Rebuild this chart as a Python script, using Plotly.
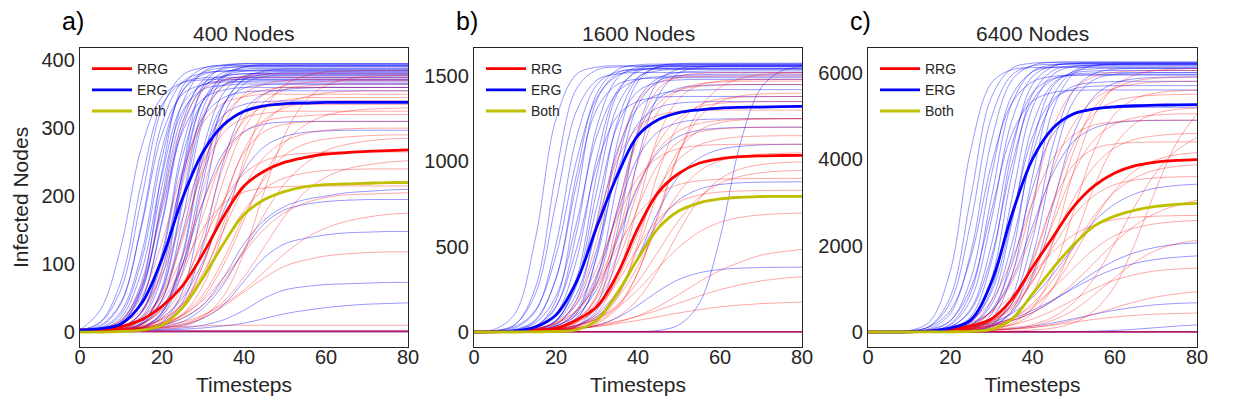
import plotly.graph_objects as go

# timesteps at which every run was sampled
timesteps = [0, 5, 10, 15, 20, 25, 30, 35, 40, 45, 50, 55, 60, 65, 70, 75, 80]

# ---------- a) 400 nodes ----------
a_erg_runs = [
    [3, 14, 63, 196, 329, 378, 389, 392, 392, 392, 392, 392, 392, 392, 392, 392, 392],
    [3, 6, 30, 115, 270, 354, 379, 384, 385, 385, 385, 385, 385, 385, 385, 385, 385],
    [3, 3, 14, 61, 190, 319, 366, 377, 380, 380, 380, 380, 380, 380, 380, 380, 380],
    [3, 3, 12, 58, 198, 337, 383, 393, 395, 395, 395, 395, 395, 395, 395, 395, 395],
    [3, 3, 6, 29, 111, 259, 340, 364, 369, 370, 370, 370, 370, 370, 370, 370, 370],
    [3, 3, 6, 30, 116, 272, 357, 382, 387, 388, 388, 388, 388, 388, 388, 388, 388],
    [3, 3, 3, 14, 60, 188, 315, 362, 373, 375, 375, 375, 375, 375, 375, 375, 375],
    [3, 3, 3, 14, 63, 196, 329, 378, 390, 392, 392, 392, 392, 392, 392, 392, 392],
    [3, 3, 3, 6, 28, 110, 256, 336, 359, 364, 365, 365, 365, 365, 365, 365, 365],
    [3, 3, 3, 6, 30, 115, 268, 352, 377, 382, 383, 383, 383, 383, 383, 383, 383],
    [3, 3, 3, 3, 14, 60, 189, 318, 365, 376, 378, 378, 378, 378, 378, 378, 378],
    [3, 3, 3, 3, 12, 44, 130, 252, 325, 351, 357, 359, 360, 360, 360, 360, 360],
    [3, 5, 26, 105, 257, 355, 382, 389, 390, 390, 390, 390, 390, 390, 390, 390, 390],
    [3, 33, 126, 272, 346, 367, 371, 372, 372, 372, 372, 372, 372, 372, 372, 372, 372],
    [3, 3, 10, 46, 160, 300, 361, 376, 380, 380, 380, 380, 380, 380, 380, 380, 380],
    [3, 3, 4, 19, 81, 224, 340, 376, 384, 386, 386, 386, 386, 386, 386, 386, 386],
    [3, 10, 44, 155, 291, 350, 364, 368, 368, 368, 368, 368, 368, 368, 368, 368, 368],
    [3, 3, 3, 12, 48, 146, 262, 319, 335, 339, 340, 340, 340, 340, 340, 340, 340],
    [3, 3, 3, 12, 37, 99, 192, 264, 295, 306, 309, 310, 310, 310, 310, 310, 310],
    [3, 3, 3, 5, 21, 50, 104, 178, 238, 273, 288, 294, 296, 297, 297, 297, 297],
    [3, 3, 3, 5, 10, 20, 40, 80, 130, 165, 185, 195, 200, 205, 207, 209, 210],
    [3, 3, 3, 4, 8, 15, 35, 70, 120, 160, 180, 188, 192, 194, 195, 195, 195],
    [3, 3, 3, 4, 6, 10, 20, 40, 75, 110, 130, 138, 143, 146, 147, 148, 148],
    [3, 3, 3, 3, 4, 6, 10, 18, 32, 50, 62, 67, 70, 71, 72, 73, 73],
    [3, 3, 3, 3, 3, 4, 6, 9, 13, 20, 27, 32, 36, 39, 41, 42, 43],
    [3, 3, 11, 66, 236, 361, 388, 393, 393, 393, 393, 393, 393, 393, 393, 393, 393],
    [3, 15, 75, 221, 334, 367, 374, 375, 375, 375, 375, 375, 375, 375, 375, 375, 375],
    [3, 3, 7, 29, 103, 230, 316, 345, 353, 355, 355, 355, 355, 355, 355, 355, 355],
    [3, 3, 3, 6, 24, 89, 221, 333, 373, 384, 387, 387, 387, 387, 387, 387, 387],
    [3, 3, 15, 73, 215, 325, 357, 363, 365, 365, 365, 365, 365, 365, 365, 365, 365],
    [3, 8, 42, 159, 307, 368, 381, 384, 384, 384, 384, 384, 384, 384, 384, 384, 384],
    [3, 3, 10, 47, 164, 309, 371, 387, 391, 391, 391, 391, 391, 391, 391, 391, 391],
    [3, 3, 4, 22, 91, 234, 340, 370, 376, 378, 378, 378, 378, 378, 378, 378, 378],
    [3, 3, 3, 10, 47, 165, 311, 374, 390, 394, 394, 394, 394, 394, 394, 394, 394],
    [3, 4, 21, 89, 231, 335, 364, 370, 372, 372, 372, 372, 372, 372, 372, 372, 372],
    [3, 3, 3, 7, 28, 99, 233, 334, 371, 379, 382, 382, 382, 382, 382, 382, 382],
    [3, 3, 3, 11, 66, 237, 362, 390, 395, 395, 395, 395, 395, 395, 395, 395, 395],
    [3, 4, 17, 65, 180, 295, 343, 356, 360, 360, 360, 360, 360, 360, 360, 360, 360],
    [1, 1, 1, 1, 1, 1, 1, 1, 1, 1, 1, 1, 1, 1, 1, 1, 1],
    [1, 1, 1, 1, 1, 1, 1, 1, 1, 1, 1, 1, 1, 1, 1, 1, 1],
    [2, 2, 2, 2, 2, 2, 2, 2, 2, 2, 2, 2, 2, 2, 2, 2, 2],
    [0, 0, 0, 0, 0, 0, 0, 0, 0, 0, 0, 0, 0, 0, 0, 0, 0],
]
a_rrg_runs = [
    [3, 3, 8, 28, 93, 217, 320, 363, 376, 380, 380, 380, 380, 380, 380, 380, 380],
    [3, 3, 5, 17, 54, 136, 244, 317, 347, 356, 360, 360, 360, 360, 360, 360, 360],
    [3, 3, 4, 12, 35, 86, 172, 259, 311, 333, 341, 345, 345, 345, 345, 345, 345],
    [3, 3, 3, 9, 25, 66, 144, 244, 315, 350, 363, 367, 369, 370, 370, 370, 370],
    [3, 3, 9, 22, 53, 112, 192, 256, 294, 310, 316, 318, 320, 320, 320, 320, 320],
    [3, 3, 3, 8, 19, 42, 87, 150, 213, 258, 281, 292, 297, 299, 300, 300, 300],
    [3, 3, 3, 6, 14, 35, 82, 160, 245, 305, 334, 346, 352, 354, 355, 355, 355],
    [3, 3, 3, 5, 11, 24, 50, 99, 165, 231, 279, 305, 319, 325, 328, 329, 330],
    [3, 3, 3, 5, 10, 21, 40, 74, 122, 174, 219, 248, 267, 276, 281, 284, 285],
    [3, 3, 5, 12, 32, 71, 132, 193, 233, 252, 260, 263, 265, 265, 265, 265, 265],
    [3, 3, 4, 7, 13, 25, 47, 80, 117, 152, 176, 190, 198, 202, 203, 204, 205],
    [3, 3, 4, 6, 10, 15, 25, 41, 62, 89, 116, 138, 153, 163, 169, 173, 175],
    [3, 3, 3, 4, 7, 11, 21, 38, 59, 80, 97, 106, 112, 115, 117, 118, 118],
    [3, 4, 5, 6, 7, 8, 9, 10, 10, 10, 10, 10, 10, 10, 10, 10, 10],
    [3, 4, 18, 68, 188, 307, 357, 371, 375, 375, 375, 375, 375, 375, 375, 375, 375],
    [3, 5, 16, 52, 132, 238, 308, 337, 346, 350, 350, 350, 350, 350, 350, 350, 350],
    [3, 3, 3, 4, 11, 37, 99, 192, 264, 295, 306, 309, 310, 310, 310, 310, 310],
    [3, 3, 3, 7, 18, 40, 79, 130, 179, 211, 227, 234, 238, 239, 240, 240, 240],
    [3, 3, 3, 4, 9, 26, 68, 150, 254, 328, 364, 377, 383, 384, 385, 385, 385],
    [3, 3, 6, 18, 45, 97, 152, 189, 206, 212, 214, 215, 215, 215, 215, 215, 215],
    [3, 3, 3, 7, 20, 54, 124, 223, 299, 339, 357, 362, 364, 365, 365, 365, 365],
    [3, 5, 12, 33, 84, 168, 251, 302, 323, 331, 334, 335, 335, 335, 335, 335, 335],
    [3, 3, 3, 5, 11, 26, 55, 107, 171, 226, 261, 277, 284, 287, 289, 290, 290],
    [3, 3, 3, 4, 7, 12, 24, 45, 81, 126, 171, 207, 228, 240, 246, 250, 252],
    [3, 3, 5, 11, 35, 100, 209, 304, 350, 365, 370, 372, 372, 372, 372, 372, 372],
    [3, 3, 3, 5, 15, 41, 99, 188, 268, 312, 330, 337, 339, 340, 340, 340, 340],
    [3, 3, 6, 19, 59, 142, 237, 293, 315, 322, 325, 325, 325, 325, 325, 325, 325],
    [3, 3, 3, 3, 5, 8, 22, 53, 117, 208, 291, 340, 363, 372, 376, 377, 378],
    [1, 1, 1, 1, 1, 1, 1, 1, 1, 1, 1, 1, 1, 1, 1, 1, 1],
    [1, 1, 1, 1, 1, 1, 1, 1, 1, 1, 1, 1, 1, 1, 1, 1, 1],
    [2, 2, 2, 2, 2, 2, 2, 2, 2, 2, 2, 2, 2, 2, 2, 2, 2],
    [0, 0, 0, 0, 0, 0, 0, 0, 0, 0, 0, 0, 0, 0, 0, 0, 0],
]
a_rrg_mean = [3, 4, 8, 18, 38, 68, 115, 170, 215, 237, 250, 257, 262, 264, 266, 267, 268]
a_erg_mean = [3, 5, 12, 42, 108, 197, 265, 305, 325, 333, 336, 337, 338, 338, 338, 338, 338]
a_both_mean = [0, 0, 1, 3, 10, 36, 80, 130, 173, 195, 207, 214, 217, 218, 219, 220, 220]

# ---------- b) 1600 nodes ----------
b_erg_runs = [
    [3, 16, 108, 551, 1248, 1510, 1552, 1560, 1560, 1560, 1560, 1560, 1560, 1560, 1560, 1560, 1560],
    [3, 5, 23, 123, 513, 1140, 1450, 1525, 1537, 1540, 1540, 1540, 1540, 1540, 1540, 1540, 1540],
    [3, 3, 11, 65, 314, 922, 1399, 1537, 1565, 1570, 1570, 1570, 1570, 1570, 1570, 1570, 1570],
    [3, 3, 12, 54, 211, 638, 1152, 1406, 1478, 1496, 1500, 1500, 1500, 1500, 1500, 1500, 1500],
    [3, 3, 5, 21, 104, 421, 1026, 1415, 1526, 1550, 1555, 1555, 1555, 1555, 1555, 1555, 1555],
    [3, 3, 4, 16, 70, 270, 740, 1210, 1410, 1464, 1477, 1480, 1480, 1480, 1480, 1480, 1480],
    [3, 3, 3, 8, 41, 190, 655, 1234, 1489, 1551, 1562, 1565, 1565, 1565, 1565, 1565, 1565],
    [3, 3, 3, 6, 30, 127, 443, 994, 1362, 1489, 1521, 1528, 1530, 1530, 1530, 1530, 1530],
    [3, 3, 3, 5, 22, 83, 287, 725, 1163, 1367, 1428, 1444, 1448, 1450, 1450, 1450, 1450],
    [3, 3, 3, 3, 8, 31, 130, 452, 1014, 1388, 1518, 1550, 1558, 1560, 1560, 1560, 1560],
    [3, 3, 8, 37, 151, 487, 979, 1266, 1352, 1375, 1380, 1380, 1380, 1380, 1380, 1380, 1380],
    [3, 3, 3, 8, 35, 98, 253, 539, 852, 1056, 1147, 1182, 1194, 1198, 1200, 1200, 1200],
    [3, 3, 3, 5, 12, 35, 91, 218, 440, 711, 916, 1020, 1070, 1088, 1096, 1099, 1100],
    [3, 3, 3, 6, 16, 41, 105, 237, 440, 643, 775, 837, 864, 874, 878, 879, 880],
    [3, 3, 3, 4, 8, 17, 39, 84, 156, 240, 308, 347, 366, 374, 378, 379, 380],
    [3, 3, 3, 3, 3, 3, 3, 3, 3, 9, 42, 170, 550, 1110, 1430, 1530, 1554],
    [3, 8, 44, 225, 760, 1295, 1476, 1512, 1520, 1520, 1520, 1520, 1520, 1520, 1520, 1520, 1520],
    [3, 3, 4, 28, 185, 772, 1360, 1517, 1542, 1545, 1545, 1545, 1545, 1545, 1545, 1545, 1545],
    [3, 3, 3, 12, 64, 314, 926, 1397, 1537, 1564, 1570, 1570, 1570, 1570, 1570, 1570, 1570],
    [3, 3, 3, 3, 15, 74, 317, 876, 1329, 1471, 1502, 1508, 1510, 1510, 1510, 1510, 1510],
    [3, 7, 31, 128, 448, 1004, 1375, 1503, 1536, 1543, 1545, 1545, 1545, 1545, 1545, 1545, 1545],
    [3, 3, 5, 16, 62, 223, 611, 1065, 1315, 1392, 1413, 1418, 1420, 1420, 1420, 1420, 1420],
    [3, 3, 4, 11, 36, 119, 338, 700, 1025, 1175, 1227, 1244, 1248, 1250, 1250, 1250, 1250],
    [3, 6, 42, 262, 928, 1425, 1536, 1553, 1555, 1555, 1555, 1555, 1555, 1555, 1555, 1555, 1555],
    [3, 3, 5, 28, 146, 582, 1206, 1488, 1551, 1563, 1565, 1565, 1565, 1565, 1565, 1565, 1565],
    [3, 3, 4, 13, 65, 285, 835, 1325, 1494, 1531, 1538, 1540, 1540, 1540, 1540, 1540, 1540],
    [3, 3, 3, 4, 20, 106, 461, 1114, 1469, 1556, 1572, 1575, 1575, 1575, 1575, 1575, 1575],
    [3, 4, 15, 73, 314, 866, 1309, 1451, 1482, 1488, 1490, 1490, 1490, 1490, 1490, 1490, 1490],
    [3, 3, 3, 3, 7, 34, 164, 593, 1187, 1468, 1542, 1556, 1560, 1560, 1560, 1560, 1560],
    [3, 3, 4, 12, 46, 165, 489, 943, 1220, 1315, 1341, 1348, 1350, 1350, 1350, 1350, 1350],
    [0, 0, 0, 0, 0, 0, 0, 0, 0, 0, 0, 0, 0, 0, 0, 0, 0],
    [0, 0, 0, 0, 0, 0, 0, 0, 0, 0, 0, 0, 0, 0, 0, 0, 0],
    [1, 1, 1, 1, 1, 1, 1, 1, 1, 1, 1, 1, 1, 1, 1, 1, 1],
    [3, 3, 3, 3, 3, 3, 3, 3, 3, 3, 3, 3, 3, 3, 3, 3, 3],
]
b_rrg_runs = [
    [3, 3, 5, 13, 51, 184, 543, 1047, 1356, 1461, 1490, 1497, 1500, 1500, 1500, 1500, 1500],
    [3, 3, 4, 10, 34, 110, 322, 725, 1128, 1340, 1417, 1440, 1447, 1450, 1450, 1450, 1450],
    [3, 3, 4, 8, 26, 73, 199, 459, 829, 1110, 1256, 1319, 1340, 1347, 1350, 1350, 1350],
    [3, 3, 7, 19, 49, 125, 290, 562, 863, 1070, 1179, 1222, 1240, 1247, 1250, 1250, 1250],
    [3, 3, 4, 9, 21, 54, 137, 310, 575, 840, 1013, 1096, 1129, 1143, 1148, 1150, 1150],
    [3, 3, 4, 8, 18, 40, 93, 202, 386, 618, 818, 944, 1003, 1030, 1042, 1047, 1050],
    [3, 3, 3, 4, 10, 34, 112, 329, 740, 1151, 1368, 1446, 1470, 1477, 1480, 1480, 1480],
    [3, 3, 5, 9, 18, 37, 79, 159, 295, 475, 655, 791, 871, 912, 933, 943, 946],
    [3, 3, 3, 4, 7, 17, 50, 139, 350, 700, 1050, 1260, 1350, 1383, 1394, 1398, 1400],
    [3, 4, 7, 12, 22, 38, 76, 145, 248, 377, 497, 587, 642, 672, 686, 693, 697],
    [3, 4, 6, 9, 14, 22, 33, 57, 95, 150, 220, 295, 360, 410, 450, 470, 483],
    [3, 4, 6, 9, 14, 26, 40, 62, 92, 128, 170, 211, 248, 277, 299, 314, 324],
    [3, 4, 6, 8, 14, 21, 32, 49, 68, 90, 112, 131, 147, 158, 166, 171, 175],
    [3, 3, 3, 5, 12, 55, 216, 651, 1170, 1425, 1497, 1515, 1520, 1520, 1520, 1520, 1520],
    [3, 3, 4, 7, 10, 16, 38, 88, 192, 368, 589, 779, 897, 955, 981, 992, 997],
    [3, 3, 9, 30, 99, 290, 650, 1010, 1201, 1270, 1292, 1298, 1300, 1300, 1300, 1300, 1300],
    [3, 3, 5, 10, 22, 57, 140, 292, 496, 664, 762, 803, 820, 826, 829, 830, 830],
    [3, 3, 3, 4, 6, 19, 65, 204, 522, 940, 1216, 1329, 1365, 1375, 1378, 1380, 1380],
    [3, 3, 4, 9, 23, 65, 176, 410, 733, 985, 1115, 1172, 1190, 1197, 1199, 1200, 1200],
    [3, 3, 4, 7, 12, 23, 59, 152, 350, 684, 1049, 1307, 1433, 1485, 1508, 1516, 1520],
    [3, 4, 9, 20, 51, 126, 279, 495, 693, 810, 864, 886, 895, 898, 900, 900, 900],
    [3, 3, 4, 9, 21, 69, 218, 556, 998, 1295, 1416, 1454, 1465, 1469, 1470, 1470, 1470],
    [3, 3, 4, 8, 15, 29, 83, 221, 491, 822, 1066, 1183, 1226, 1242, 1247, 1249, 1250],
    [3, 4, 9, 21, 59, 162, 376, 673, 903, 1023, 1075, 1092, 1098, 1100, 1100, 1100, 1100],
    [0, 0, 0, 0, 0, 0, 0, 0, 0, 0, 0, 0, 0, 0, 0, 0, 0],
    [0, 0, 0, 0, 0, 0, 0, 0, 0, 0, 0, 0, 0, 0, 0, 0, 0],
    [1, 1, 1, 1, 1, 1, 1, 1, 1, 1, 1, 1, 1, 1, 1, 1, 1],
    [3, 3, 3, 3, 3, 3, 3, 3, 3, 3, 3, 3, 3, 3, 3, 3, 3],
]
b_rrg_mean = [0, 1, 4, 10, 22, 70, 150, 340, 610, 820, 930, 990, 1015, 1027, 1032, 1034, 1035]
b_erg_mean = [0, 2, 6, 30, 100, 295, 620, 920, 1152, 1245, 1285, 1302, 1312, 1316, 1318, 1320, 1322]
b_both_mean = [0, 0, 0, 1, 3, 12, 70, 230, 430, 610, 710, 757, 780, 789, 793, 795, 795]

# ---------- c) 6400 nodes ----------
c_erg_runs = [
    [3, 3, 23, 130, 680, 2540, 4960, 5950, 6155, 6195, 6200, 6200, 6200, 6200, 6200, 6200, 6200],
    [3, 3, 8, 46, 252, 1230, 3630, 5470, 6020, 6125, 6150, 6150, 6150, 6150, 6150, 6150, 6150],
    [3, 3, 3, 31, 160, 750, 2600, 4900, 5910, 6160, 6210, 6220, 6220, 6220, 6220, 6220, 6220],
    [3, 3, 3, 27, 120, 500, 1740, 3890, 5350, 5840, 5965, 5993, 6000, 6000, 6000, 6000, 6000],
    [3, 3, 3, 8, 43, 220, 990, 3090, 5190, 5960, 6140, 6175, 6180, 6180, 6180, 6180, 6180],
    [3, 3, 3, 5, 35, 157, 635, 2040, 4120, 5320, 5690, 5770, 5795, 5800, 5800, 5800, 5800],
    [3, 3, 3, 3, 14, 61, 303, 1310, 3610, 5450, 6040, 6170, 6195, 6200, 6200, 6200, 6200],
    [3, 3, 3, 3, 8, 37, 165, 668, 2140, 4330, 5590, 5980, 6080, 6097, 6100, 6100, 6100],
    [3, 3, 10, 62, 265, 1020, 2800, 4580, 5340, 5540, 5590, 5598, 5600, 5600, 5600, 5600, 5600],
    [3, 3, 14, 78, 422, 1840, 4410, 5830, 6170, 6240, 6250, 6250, 6250, 6250, 6250, 6250, 6250],
    [3, 3, 3, 3, 8, 40, 138, 448, 1310, 2950, 4590, 5450, 5760, 5860, 5890, 5898, 5900],
    [3, 3, 5, 20, 60, 175, 490, 1230, 2450, 3680, 4410, 4720, 4840, 4880, 4895, 4899, 4900],
    [3, 3, 10, 25, 55, 107, 217, 430, 800, 1340, 1970, 2560, 2960, 3200, 3330, 3390, 3420],
    [3, 3, 8, 20, 45, 85, 145, 262, 450, 720, 1050, 1380, 1650, 1840, 1960, 2030, 2060],
    [3, 5, 15, 35, 70, 120, 187, 313, 500, 740, 1010, 1260, 1460, 1590, 1680, 1730, 1760],
    [3, 3, 5, 10, 18, 30, 50, 80, 133, 210, 308, 412, 504, 575, 630, 660, 676],
    [3, 3, 3, 3, 3, 3, 3, 3, 3, 5, 10, 19, 36, 64, 100, 136, 164],
    [3, 4, 34, 240, 1410, 4220, 5760, 6070, 6115, 6120, 6120, 6120, 6120, 6120, 6120, 6120, 6120],
    [3, 3, 3, 11, 65, 355, 1620, 4170, 5730, 6140, 6215, 6228, 6230, 6230, 6230, 6230, 6230],
    [3, 3, 3, 6, 30, 157, 726, 2540, 4780, 5750, 5990, 6040, 6050, 6050, 6050, 6050, 6050],
    [3, 3, 27, 119, 494, 1725, 3870, 5300, 5790, 5915, 5945, 5950, 5950, 5950, 5950, 5950, 5950],
    [3, 3, 3, 3, 8, 27, 155, 806, 2850, 5150, 5980, 6160, 6195, 6200, 6200, 6200, 6200],
    [3, 3, 3, 8, 33, 135, 500, 1560, 3330, 4580, 5020, 5150, 5185, 5195, 5200, 5200, 5200],
    [3, 3, 6, 32, 183, 917, 3105, 5290, 6030, 6180, 6205, 6210, 6210, 6210, 6210, 6210, 6210],
    [3, 3, 3, 10, 46, 253, 1236, 3650, 5500, 6050, 6155, 6175, 6180, 6180, 6180, 6180, 6180],
    [3, 3, 3, 4, 13, 76, 409, 1770, 4330, 5690, 6025, 6090, 6100, 6100, 6100, 6100, 6100],
    [3, 3, 5, 22, 113, 535, 2020, 4340, 5530, 5865, 5935, 5948, 5950, 5950, 5950, 5950, 5950],
    [3, 4, 21, 137, 811, 3120, 5430, 6100, 6220, 6240, 6240, 6240, 6240, 6240, 6240, 6240, 6240],
    [3, 3, 3, 3, 8, 27, 120, 500, 1740, 3890, 5350, 5840, 5965, 5993, 6000, 6000, 6000],
    [3, 3, 3, 12, 54, 234, 912, 2630, 4510, 5385, 5625, 5685, 5698, 5700, 5700, 5700, 5700],
    [0, 0, 0, 0, 0, 0, 0, 0, 0, 0, 0, 0, 0, 0, 0, 0, 0],
    [0, 0, 0, 0, 0, 0, 0, 0, 0, 0, 0, 0, 0, 0, 0, 0, 0],
    [3, 3, 3, 3, 3, 3, 3, 3, 3, 3, 3, 3, 3, 3, 3, 3, 3],
    [10, 10, 10, 10, 10, 10, 10, 10, 10, 10, 10, 10, 10, 10, 10, 10, 10],
]
c_rrg_runs = [
    [3, 3, 5, 15, 41, 139, 460, 1330, 3025, 4720, 5590, 5910, 6010, 6040, 6050, 6050, 6050],
    [3, 3, 4, 12, 30, 83, 242, 660, 1600, 3030, 4350, 5060, 5340, 5440, 5480, 5495, 5500],
    [3, 3, 8, 20, 45, 101, 244, 550, 1160, 2090, 3090, 3840, 4260, 4460, 4540, 4580, 4595],
    [3, 3, 5, 15, 40, 80, 152, 323, 660, 1210, 1950, 2690, 3240, 3570, 3750, 3830, 3870],
    [3, 3, 3, 5, 12, 30, 63, 168, 430, 1030, 2090, 3370, 4320, 4830, 5060, 5150, 5180],
    [3, 3, 8, 18, 40, 80, 164, 325, 600, 1010, 1480, 1920, 2230, 2410, 2505, 2555, 2580],
    [3, 3, 8, 18, 35, 55, 86, 164, 296, 498, 750, 1000, 1200, 1330, 1415, 1455, 1478],
    [3, 3, 8, 25, 70, 186, 480, 1160, 2320, 3770, 4810, 5390, 5640, 5740, 5780, 5795, 5800],
    [3, 3, 4, 8, 20, 62, 207, 660, 1670, 2990, 3870, 4240, 4350, 4385, 4395, 4399, 4400],
    [3, 3, 3, 3, 3, 5, 10, 20, 45, 90, 213, 493, 1060, 2070, 3300, 4370, 5040],
    [3, 8, 14, 25, 48, 85, 150, 265, 450, 740, 1130, 1600, 2070, 2470, 2750, 2930, 3050],
    [3, 3, 5, 8, 14, 25, 40, 63, 104, 158, 225, 292, 346, 388, 414, 428, 438],
    [3, 3, 5, 12, 30, 60, 116, 330, 900, 2080, 3720, 5000, 5680, 5950, 6050, 6085, 6095],
    [3, 3, 4, 6, 10, 20, 35, 70, 139, 275, 506, 860, 1255, 1620, 1890, 2040, 2120],
    [3, 3, 10, 30, 93, 265, 720, 1670, 2990, 4020, 4560, 4790, 4860, 4890, 4900, 4900, 4900],
    [3, 3, 5, 10, 20, 35, 60, 100, 173, 345, 680, 1250, 2060, 2930, 3690, 4200, 4500],
    [3, 3, 5, 10, 18, 30, 45, 70, 103, 174, 277, 410, 560, 700, 810, 880, 933],
    [3, 3, 5, 12, 34, 91, 237, 606, 1360, 2525, 3690, 4450, 4810, 4960, 5020, 5045, 5050],
    [3, 3, 3, 6, 12, 30, 67, 200, 560, 1400, 2800, 4200, 5040, 5400, 5530, 5580, 5595],
    [3, 5, 10, 22, 47, 113, 266, 595, 1180, 1960, 2690, 3160, 3410, 3520, 3565, 3588, 3595],
    [3, 8, 22, 49, 106, 225, 455, 840, 1350, 1860, 2245, 2475, 2600, 2655, 2680, 2692, 2697],
    [3, 3, 5, 12, 28, 58, 170, 484, 1240, 2630, 4180, 5190, 5640, 5810, 5870, 5892, 5900],
    [3, 3, 8, 20, 40, 70, 121, 260, 540, 1030, 1770, 2600, 3280, 3740, 3980, 4100, 4150],
    [0, 0, 0, 0, 0, 0, 0, 0, 0, 0, 0, 0, 0, 0, 0, 0, 0],
    [0, 0, 0, 0, 0, 0, 0, 0, 0, 0, 0, 0, 0, 0, 0, 0, 0],
    [3, 3, 3, 3, 3, 3, 3, 3, 3, 3, 3, 3, 3, 3, 3, 3, 3],
    [10, 10, 10, 10, 10, 10, 10, 10, 10, 10, 10, 10, 10, 10, 10, 10, 10],
]
c_rrg_mean = [0, 1, 5, 18, 55, 140, 300, 760, 1500, 2200, 2900, 3380, 3680, 3850, 3930, 3970, 3990]
c_erg_mean = [0, 0, 5, 20, 90, 280, 1150, 2720, 4000, 4720, 5050, 5160, 5210, 5235, 5248, 5255, 5260]
c_both_mean = [0, 0, 0, 2, 5, 15, 60, 300, 880, 1480, 2020, 2450, 2680, 2820, 2905, 2950, 2975]

panel_labels = ["a)", "b)", "c)"]
panel_titles = ["400 Nodes", "1600 Nodes", "6400 Nodes"]
y_ranges = [[-22, 418], [-88, 1664], [-347, 6571]]
y_ticks = [[0, 100, 200, 300, 400], [0, 500, 1000, 1500], [0, 2000, 4000, 6000]]

# the page body keeps an 8px margin on the left and top, so lay out 8px smaller
OFF = 8
W, H = 1240 - OFF, 396 - OFF
plot_left = [80, 474, 868]
plot_right = [408, 802, 1197]
plot_top, plot_bottom = 48, 347


def px(x):
    return (x - OFF) / W


def py(y):
    return 1 - (y - OFF) / H


panels = [
    (a_erg_runs, a_rrg_runs, a_rrg_mean, a_erg_mean, a_both_mean),
    (b_erg_runs, b_rrg_runs, b_rrg_mean, b_erg_mean, b_both_mean),
    (c_erg_runs, c_rrg_runs, c_rrg_mean, c_erg_mean, c_both_mean),
]

TXT = "#262626"
FONT = "Liberation Sans, Arial, sans-serif"
RED, BLUE, YEL = "#ff0000", "#0000ff", "#bfbf00"

fig = go.Figure()
layout = dict()
annotations = []

for i, (erg_runs, rrg_runs, rrg_mean, erg_mean, both_mean) in enumerate(panels):
    n = "" if i == 0 else str(i + 1)
    xa, ya = "x" + n, "y" + n
    leg = "legend" + n

    for run in erg_runs:
        fig.add_trace(go.Scatter(x=timesteps, y=run, mode="lines", xaxis=xa, yaxis=ya,
                                 line=dict(color="rgba(0,0,255,0.45)", width=0.9, shape="spline"),
                                 showlegend=False, hoverinfo="skip"))
    for run in rrg_runs:
        fig.add_trace(go.Scatter(x=timesteps, y=run, mode="lines", xaxis=xa, yaxis=ya,
                                 line=dict(color="rgba(255,0,0,0.38)", width=0.9, shape="spline"),
                                 showlegend=False, hoverinfo="skip"))

    for name, vals, col in [("RRG", rrg_mean, RED), ("ERG", erg_mean, BLUE), ("Both", both_mean, YEL)]:
        fig.add_trace(go.Scatter(x=timesteps, y=vals, mode="lines", xaxis=xa, yaxis=ya, name=name,
                                 line=dict(color=col, width=2.8, shape="spline"),
                                 legend=leg, showlegend=True))

    x0, x1 = px(plot_left[i]), px(plot_right[i])
    y0, y1 = py(plot_bottom), py(plot_top)
    common = dict(showgrid=False, zeroline=False, showline=True, mirror=True,
                  linecolor=TXT, linewidth=1.3, ticks="", ticklen=0, automargin=False,
                  tickfont=dict(size=20, color=TXT, family=FONT))
    layout["xaxis" + n] = dict(common, domain=[x0, x1], anchor=ya, range=[0, 80],
                               tickvals=[0, 20, 40, 60, 80], fixedrange=True,
                               ticklabelstandoff=-8,
                               title=dict(text="Timesteps", font=dict(size=21, color=TXT, family=FONT),
                                          standoff=12))
    ydict = dict(common, domain=[y0, y1], anchor=xa, range=y_ranges[i],
                 tickvals=y_ticks[i], fixedrange=True)
    if i == 0:
        ydict["title"] = dict(text="Infected Nodes", font=dict(size=21, color=TXT, family=FONT),
                              standoff=7)
    layout["yaxis" + n] = ydict
    layout[leg] = dict(x=px(plot_left[i] + 7), y=py(53), xanchor="left", yanchor="top",
                       bgcolor="rgba(0,0,0,0)", font=dict(size=14, color=TXT, family=FONT),
                       tracegroupgap=0, itemwidth=40)

    annotations.append(dict(text=panel_titles[i], x=(x0 + x1) / 2, y=py(34),
                            xref="paper", yref="paper", xanchor="center", yanchor="middle",
                            showarrow=False, font=dict(size=21, color=TXT, family=FONT)))
    annotations.append(dict(text=panel_labels[i], x=px(plot_left[i] - 20), y=py(21),
                            xref="paper", yref="paper", xanchor="left", yanchor="middle",
                            showarrow=False, font=dict(size=25, color="black", family=FONT)))

fig.update_layout(**layout)
fig.update_layout(
    width=W, height=H,
    margin=dict(l=0, r=0, t=0, b=0, autoexpand=False),
    paper_bgcolor="white", plot_bgcolor="white",
    font=dict(family=FONT, color=TXT),
    annotations=annotations,
    hovermode=False,
)

fig.write_html("out.html")
